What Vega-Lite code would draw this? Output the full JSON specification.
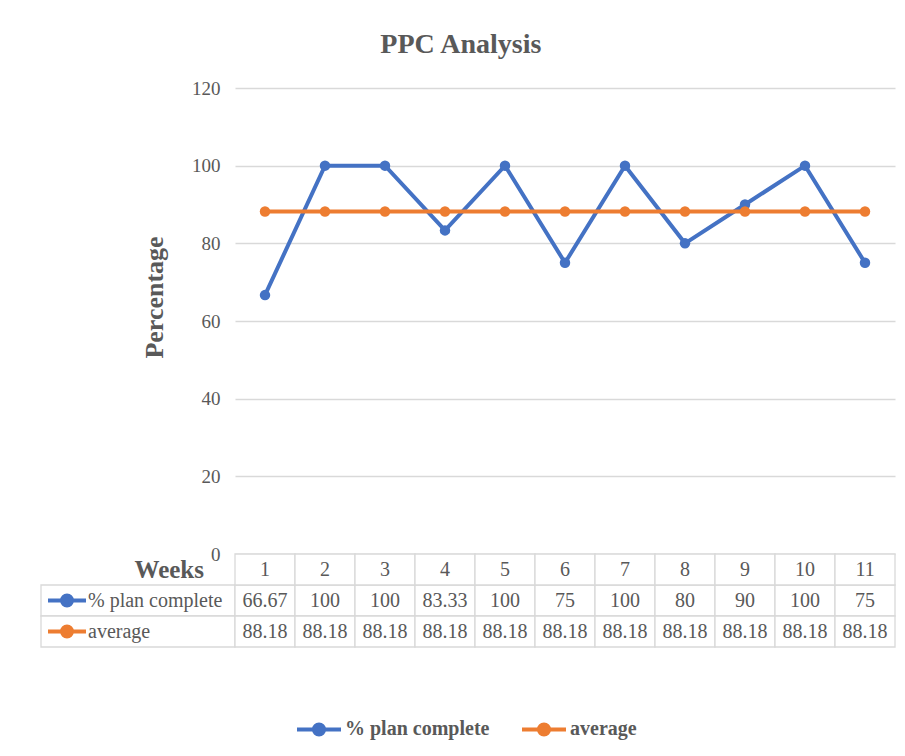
{
  "$schema": "https://vega.github.io/schema/vega-lite/v6.json",
  "background": "white",
  "padding": {"left": 40, "top": 31, "right": 5, "bottom": 5},
  "title": {"text": "PPC Analysis", "font": "Liberation Serif", "fontSize": 28, "fontWeight": "bold", "color": "#595959", "anchor": "middle", "offset": 20, "dx": -7},
  "datasets": {
    "ppc": [
      {"week": 1, "series": "% plan complete", "value": 66.67},
      {"week": 2, "series": "% plan complete", "value": 100},
      {"week": 3, "series": "% plan complete", "value": 100},
      {"week": 4, "series": "% plan complete", "value": 83.33},
      {"week": 5, "series": "% plan complete", "value": 100},
      {"week": 6, "series": "% plan complete", "value": 75},
      {"week": 7, "series": "% plan complete", "value": 100},
      {"week": 8, "series": "% plan complete", "value": 80},
      {"week": 9, "series": "% plan complete", "value": 90},
      {"week": 10, "series": "% plan complete", "value": 100},
      {"week": 11, "series": "% plan complete", "value": 75},
      {"week": 1, "series": "average", "value": 88.18},
      {"week": 2, "series": "average", "value": 88.18},
      {"week": 3, "series": "average", "value": 88.18},
      {"week": 4, "series": "average", "value": 88.18},
      {"week": 5, "series": "average", "value": 88.18},
      {"week": 6, "series": "average", "value": 88.18},
      {"week": 7, "series": "average", "value": 88.18},
      {"week": 8, "series": "average", "value": 88.18},
      {"week": 9, "series": "average", "value": 88.18},
      {"week": 10, "series": "average", "value": 88.18},
      {"week": 11, "series": "average", "value": 88.18}
    ]
  },
  "data": {"name": "ppc"},
  "columns": 2,
  "spacing": 0,
  "bounds": "flush",
  "concat": [
    {
      "width": 194,
      "height": 466,
      "data": {"values": [{"blank": ""}]},
      "mark": {"type": "text"},
      "encoding": {"text": {"field": "blank", "type": "nominal"}}
    },
    {
      "width": 660,
      "height": 466,
      "mark": {"type": "line", "strokeWidth": 4, "point": {"filled": true, "size": 110, "opacity": 1}},
      "encoding": {
        "x": {"field": "week", "type": "ordinal", "scale": {"type": "point", "padding": 0.5}, "axis": null},
        "y": {
          "field": "value", "type": "quantitative",
          "scale": {"domain": [0, 120]},
          "axis": {
            "values": [0, 20, 40, 60, 80, 100, 120],
            "title": "Percentage",
            "titleFont": "Liberation Serif", "titleFontSize": 26, "titleFontWeight": "bold", "titleColor": "#595959",
            "titlePadding": 24, "titleY": 209,
            "labelFont": "Liberation Serif", "labelFontSize": 19, "labelColor": "#595959", "labelPadding": 15,
            "domain": false, "ticks": false, "grid": true, "gridColor": "#d9d9d9", "gridWidth": 1.3
          }
        },
        "color": {
          "field": "series", "type": "nominal",
          "scale": {"domain": ["% plan complete", "average"], "range": ["#4472C4", "#ED7D31"]},
          "legend": {
            "orient": "none", "legendX": 254, "legendY": 617, "direction": "horizontal", "title": null,
            "labelFont": "Liberation Serif", "labelFontSize": 20, "labelFontWeight": "bold", "labelColor": "#595959",
            "symbolType": "M-1,0H1M0.23,0A0.23,0.23,0,1,1,-0.23,0A0.23,0.23,0,1,1,0.23,0Z",
            "symbolSize": 1936, "symbolStrokeWidth": 4, "labelOffset": 2, "columnPadding": 24,
            "encode": {"symbols": {"update": {"fill": {"scale": "color", "field": "value"}, "stroke": {"scale": "color", "field": "value"}, "opacity": {"value": 1}}}}
          }
        }
      }
    },
    {
      "width": 194,
      "height": 93,
      "transform": [{"aggregate": [{"op": "count", "as": "n"}], "groupby": ["series"]}],
      "encoding": {
        "y": {"field": "series", "type": "nominal", "scale": {"type": "band", "domain": ["Weeks", "% plan complete", "average"], "paddingInner": 0, "paddingOuter": 0}, "axis": null}
      },
      "layer": [
        {"mark": {"type": "rect", "fill": "white", "stroke": "#d9d9d9", "strokeWidth": 1.3}},
        {
          "mark": {"type": "point", "shape": "M-1,0H1M0.26,0A0.26,0.26,0,1,1,-0.26,0A0.26,0.26,0,1,1,0.26,0Z", "size": 1444, "filled": true, "strokeWidth": 4, "opacity": 1, "xOffset": -71},
          "encoding": {
            "color": {"field": "series", "type": "nominal", "legend": null},
            "stroke": {"field": "series", "type": "nominal", "scale": {"domain": ["% plan complete", "average"], "range": ["#4472C4", "#ED7D31"]}, "legend": null}
          }
        },
        {
          "mark": {"type": "text", "align": "left", "dx": -50, "font": "Liberation Serif", "fontSize": 20, "color": "#595959"},
          "encoding": {"text": {"field": "series", "type": "nominal"}}
        },
        {
          "data": {"values": [{"label": "Weeks"}]},
          "mark": {"type": "text", "align": "right", "dx": 66, "font": "Liberation Serif", "fontSize": 25, "fontWeight": "bold", "color": "#595959"},
          "encoding": {"y": {"datum": "Weeks"}, "text": {"field": "label", "type": "nominal"}}
        }
      ]
    },
    {
      "width": 660,
      "height": 93,
      "encoding": {
        "x": {"field": "week", "type": "ordinal", "scale": {"type": "band", "paddingInner": 0, "paddingOuter": 0}, "axis": null},
        "y": {"field": "series", "type": "nominal", "scale": {"type": "band", "domain": ["Weeks", "% plan complete", "average"], "paddingInner": 0, "paddingOuter": 0}, "axis": null}
      },
      "layer": [
        {"mark": {"type": "rect", "fill": "white", "stroke": "#d9d9d9", "strokeWidth": 1.3}},
        {
          "transform": [{"filter": "datum.series === 'average'"}],
          "mark": {"type": "rect", "fill": "white", "stroke": "#d9d9d9", "strokeWidth": 1.3},
          "encoding": {"y": {"datum": "Weeks"}}
        },
        {
          "mark": {"type": "text", "font": "Liberation Serif", "fontSize": 20, "color": "#595959"},
          "encoding": {"text": {"field": "value", "type": "nominal"}}
        },
        {
          "transform": [{"filter": "datum.series === 'average'"}],
          "mark": {"type": "text", "font": "Liberation Serif", "fontSize": 20, "color": "#595959"},
          "encoding": {"y": {"datum": "Weeks"}, "text": {"field": "week", "type": "nominal"}}
        }
      ]
    }
  ],
  "config": {
    "view": {"stroke": null}
  }
}
